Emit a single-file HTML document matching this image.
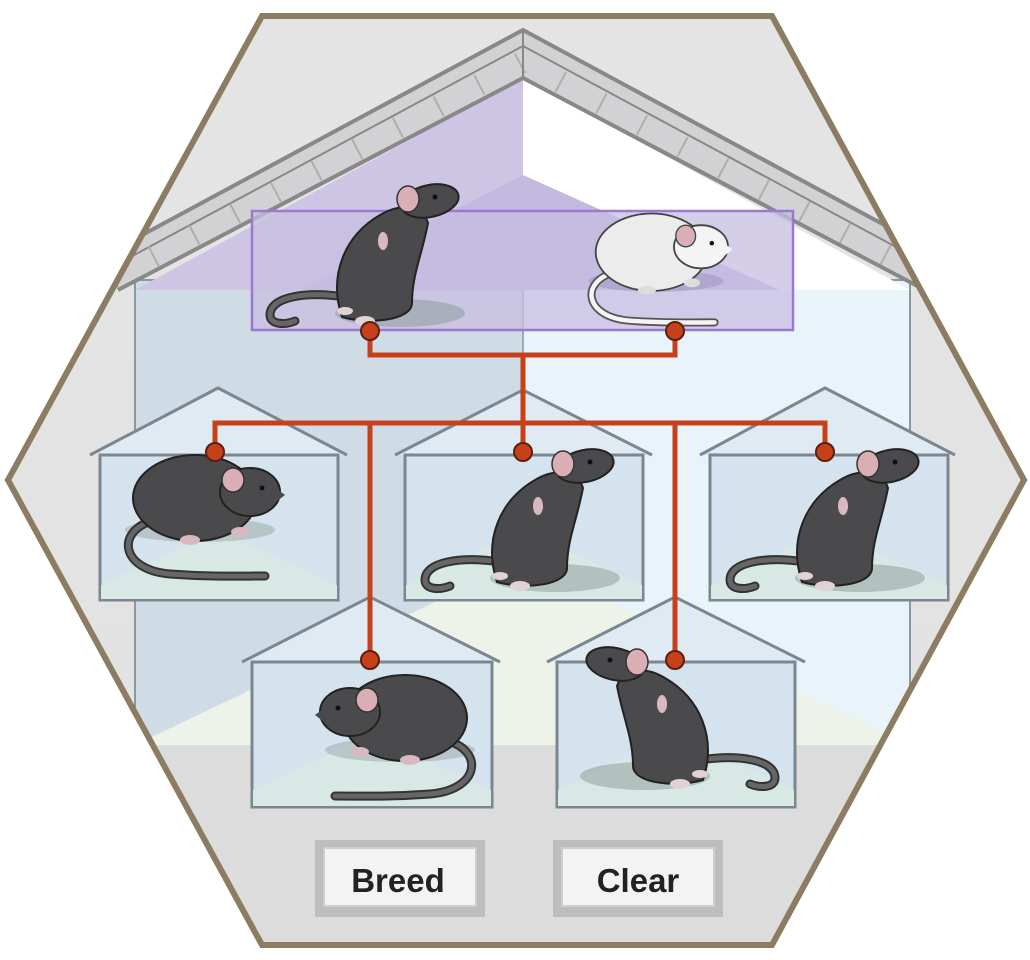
<!DOCTYPE html>
<html><head><meta charset="utf-8"><style>
html,body{margin:0;padding:0;background:#fff;}
svg{display:block;}
</style></head><body>
<svg width="1030" height="960" viewBox="0 0 1030 960" xmlns="http://www.w3.org/2000/svg">
<defs>
<linearGradient id="bg" x1="0" y1="0" x2="0" y2="1">
<stop offset="0" stop-color="#e4e4e4"/><stop offset="1" stop-color="#e2e2e2"/>
</linearGradient>
<clipPath id="hex"><polygon points="262,16 772,16 1024,480 772,945 262,945 8,480"/></clipPath>
<g id="crouch">
<ellipse cx="120" cy="150" rx="75" ry="12" fill="#9aa8a8" opacity="0.5"/>
<path d="M75 140 C35 150 40 190 90 194 C130 197 160 196 185 196" fill="none" stroke="#333" stroke-width="9" stroke-linecap="round"/>
<path d="M75 140 C35 150 40 190 90 194 C130 197 160 196 185 196" fill="none" stroke="#666" stroke-width="5" stroke-linecap="round"/>
<ellipse cx="115" cy="118" rx="62" ry="43" fill="#4a4a4c" stroke="#222" stroke-width="2"/>
<ellipse cx="170" cy="112" rx="30" ry="24" fill="#4a4a4c" stroke="#222" stroke-width="2"/>
<path d="M185 100 L205 115 L188 128 Z" fill="#4a4a4c"/>
<ellipse cx="153" cy="100" rx="11" ry="12" fill="#d9aeb5" stroke="#333" stroke-width="1.5"/>
<circle cx="182" cy="108" r="2.5" fill="#111"/>
<ellipse cx="110" cy="160" rx="10" ry="5" fill="#d9b9c0"/>
<ellipse cx="160" cy="152" rx="9" ry="5" fill="#d9b9c0"/>
</g>
<g id="crouchw">
<ellipse cx="120" cy="150" rx="75" ry="12" fill="#9a90c0" opacity="0.5"/>
<path d="M75 140 C35 150 40 190 90 194 C130 197 160 196 185 196" fill="none" stroke="#555" stroke-width="9" stroke-linecap="round"/>
<path d="M75 140 C35 150 40 190 90 194 C130 197 160 196 185 196" fill="none" stroke="#f4f4f4" stroke-width="5" stroke-linecap="round"/>
<ellipse cx="115" cy="118" rx="62" ry="43" fill="#ececec" stroke="#444" stroke-width="2"/>
<ellipse cx="170" cy="112" rx="30" ry="24" fill="#f4f4f4" stroke="#444" stroke-width="2"/>
<path d="M185 100 L205 115 L188 128 Z" fill="#f4f4f4"/>
<ellipse cx="153" cy="100" rx="11" ry="12" fill="#d9aeb5" stroke="#444" stroke-width="1.5"/>
<circle cx="182" cy="108" r="2.5" fill="#111"/>
<ellipse cx="110" cy="160" rx="10" ry="5" fill="#ddd"/>
<ellipse cx="160" cy="152" rx="9" ry="5" fill="#ddd"/>
</g>
<g id="stand">
<ellipse cx="150" cy="138" rx="65" ry="14" fill="#8a9a98" opacity="0.5"/>
<path d="M95 122 C55 116 20 122 20 140 C20 150 35 150 45 146" fill="none" stroke="#333" stroke-width="9" stroke-linecap="round"/>
<path d="M95 122 C55 116 20 122 20 140 C20 150 35 150 45 146" fill="none" stroke="#666" stroke-width="5" stroke-linecap="round"/>
<path d="M92 142 C78 100 95 60 130 40 C150 28 172 30 178 48 C172 80 162 100 162 128 C162 145 120 150 92 142 Z" fill="#4a4a4c" stroke="#222" stroke-width="2"/>
<ellipse cx="180" cy="26" rx="29" ry="16" transform="rotate(-12 180 26)" fill="#4a4a4c" stroke="#222" stroke-width="2"/>
<ellipse cx="158" cy="24" rx="11" ry="13" fill="#d9aeb5" stroke="#333" stroke-width="1.5"/>
<circle cx="185" cy="22" r="2.5" fill="#111"/>
<ellipse cx="133" cy="66" rx="5" ry="9" fill="#d9b9c0"/>
<ellipse cx="115" cy="146" rx="10" ry="5" fill="#e2d2d6"/>
<ellipse cx="95" cy="136" rx="8" ry="4" fill="#e2d2d6"/>
</g>
</defs>
<polygon points="262,16 772,16 1024,480 772,945 262,945 8,480" fill="url(#bg)"/>
<g clip-path="url(#hex)">
<!-- big house wall -->
<rect x="135" y="280" width="388" height="470" fill="#cfdbe5"/>
<rect x="523" y="280" width="387" height="470" fill="#e8f3fa"/>
<polygon points="135,745 523,560 910,745" fill="#eef3ea"/>
<line x1="523" y1="280" x2="523" y2="560" stroke="#8a98a4" stroke-width="1.5"/>
<rect x="135" y="280" width="775" height="470" fill="none" stroke="#8a98a4" stroke-width="2"/>
<!-- attic -->
<polygon points="523,78 135,290 523,290" fill="#cdc5e3"/>
<polygon points="523,78 910,290 523,290" fill="#ffffff"/>
<polygon points="523,175 300,290 780,290" fill="#c3b8de"/>
<!-- roof band -->
<polygon points="523,30 105,255 118,290 523,78 925,290 940,255" fill="#d2d2d4"/>
<polyline points="105,255 523,30 940,255" fill="none" stroke="#888" stroke-width="4"/>
<polyline points="110,268 523,46 935,268" fill="none" stroke="#888" stroke-width="2"/>
<polyline points="118,290 523,78 925,290" fill="none" stroke="#888" stroke-width="4"/>
<polyline points="112,278 523,62 930,278" fill="none" stroke="#aaa" stroke-width="22" stroke-dasharray="2 44" opacity="0.9"/>
<line x1="523" y1="30" x2="523" y2="78" stroke="#888" stroke-width="2"/>
<!-- floor -->
<rect x="0" y="745" width="1030" height="215" fill="#dcdcdc"/>
<!-- parent box -->
<rect x="252" y="211" width="541" height="119" fill="#c7bde2" fill-opacity="0.75" stroke="#9a7ad0" stroke-width="2.5"/>
<use href="#stand" transform="translate(250,175)"/>
<use href="#crouchw" transform="translate(548,146) scale(0.9)"/>
</g>
<!-- small houses -->
<g stroke="#7a8690" stroke-width="3">
<polyline points="90,455 218,388 347,455" fill="#dfeaf3"/>
<rect x="100" y="455" width="238" height="145" fill="#d5e3ee"/>
<polyline points="395,455 523,390 652,455" fill="#dfeaf3"/>
<rect x="405" y="455" width="238" height="145" fill="#d5e3ee"/>
<polyline points="700,455 825,388 955,455" fill="#dfeaf3"/>
<rect x="710" y="455" width="238" height="145" fill="#d5e3ee"/>
<polyline points="242,662 370,597 500,662" fill="#dfeaf3"/>
<rect x="252" y="662" width="240" height="145" fill="#d5e3ee"/>
<polyline points="547,662 675,597 805,662" fill="#dfeaf3"/>
<rect x="557" y="662" width="238" height="145" fill="#d5e3ee"/>
</g>
<g stroke="none">
<polygon points="101,585 218,530 337,585 337,599 101,599" fill="#d8e8e4"/>
<polygon points="406,585 523,530 642,585 642,599 406,599" fill="#d8e8e4"/>
<polygon points="711,585 825,530 947,585 947,599 711,599" fill="#d8e8e4"/>
<polygon points="253,790 370,735 491,790 491,806 253,806" fill="#d8e8e4"/>
<polygon points="558,790 675,735 794,790 794,806 558,806" fill="#d8e8e4"/>
</g>
<use href="#crouch" transform="translate(80,380)"/>
<use href="#stand" transform="translate(405,440)"/>
<use href="#stand" transform="translate(710,440)"/>
<use href="#crouch" transform="translate(520,600) scale(-1,1)"/>
<use href="#stand" transform="translate(795,638) scale(-1,1)"/>
<!-- connectors -->
<g fill="none" stroke="#c8401a" stroke-width="5">
<polyline points="370,330 370,355 675,355 675,330"/>
<line x1="523" y1="355" x2="523" y2="452"/>
<polyline points="215,452 215,423 825,423 825,452"/>
<line x1="370" y1="423" x2="370" y2="660"/>
<line x1="675" y1="423" x2="675" y2="660"/>
</g>
<g fill="#c8401a" stroke="#5a2010" stroke-width="2">
<circle cx="370" cy="331" r="9"/><circle cx="675" cy="331" r="9"/>
<circle cx="215" cy="452" r="9"/><circle cx="523" cy="452" r="9"/><circle cx="825" cy="452" r="9"/>
<circle cx="370" cy="660" r="9"/><circle cx="675" cy="660" r="9"/>
</g>
<!-- buttons -->
<rect x="315" y="840" width="170" height="77" fill="#bdbdbd"/>
<rect x="324" y="848" width="152" height="58" fill="#f3f3f3" stroke="#cfcfcf" stroke-width="2"/>
<text x="398" y="892" text-anchor="middle" font-family="Liberation Sans, sans-serif" font-weight="bold" font-size="33" fill="#222">Breed</text>
<rect x="553" y="840" width="170" height="77" fill="#bdbdbd"/>
<rect x="562" y="848" width="152" height="58" fill="#f3f3f3" stroke="#cfcfcf" stroke-width="2"/>
<text x="638" y="892" text-anchor="middle" font-family="Liberation Sans, sans-serif" font-weight="bold" font-size="33" fill="#222">Clear</text>
<polygon points="262,16 772,16 1024,480 772,945 262,945 8,480" fill="none" stroke="#8c7c62" stroke-width="6"/>
</svg>
</body></html>
